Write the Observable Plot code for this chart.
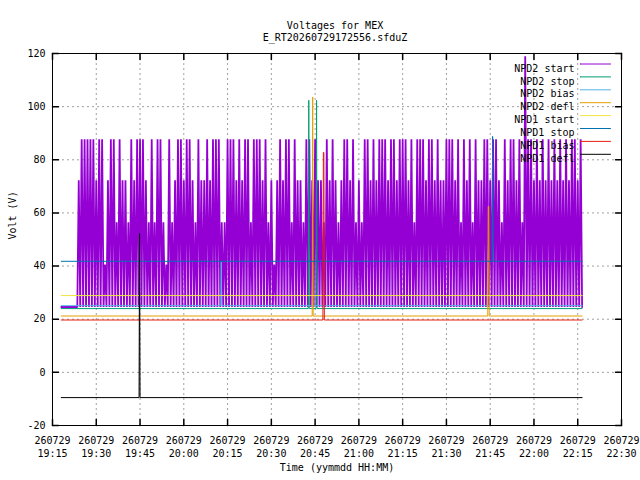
<!DOCTYPE html>
<html><head><meta charset="utf-8">
<script src="https://cdn.jsdelivr.net/npm/d3@7"></script>
<script src="https://cdn.jsdelivr.net/npm/@observablehq/plot@0.6"></script>
<style>body{margin:0;background:#fff}</style>
</head><body><div id="chart"></div>
<script>
const day = "2026-07-29";
const titleLines = ["Voltages for MEX", "E_RT20260729172556.sfduZ"];
const xLabel = "Time (yymmdd HH:MM)";
const yLabel = "Volt (V)";
const xTickDay = "260729";
const xTickTimes = ["19:15","19:30","19:45","20:00","20:15","20:30","20:45","21:00","21:15","21:30","21:45","22:00","22:15","22:30"];
const yTicks = [-20, 0, 20, 40, 60, 80, 100, 120];
const seriesNames = ["NPD2 start","NPD2 stop","NPD2 bias","NPD2 defl","NPD1 start","NPD1 stop","NPD1 bias","NPD1 defl"];
const seriesColors = ["#9400d3","#009e73","#56b4e9","#e69f00","#f0e442","#0072b2","#e51e10","#000000"];

// NPD2 start: regular 30 s samples from 19:18:00
const npd2StartFirst = "19:18:00";
const npd2StartStepSec = 30;
const npd2StartV = [
24.6,24.6,24.6,24.6,24.6,24.6,24.6,24.6,24.6,24.6,24.6,24.6,72.3,24.6,87.7,24.6,87.7,24.6,87.7,24.6,
87.7,24.6,87.7,24.6,72.3,24.6,87.7,24.6,87.7,24.6,40.6,24.6,72.3,24.6,87.7,24.6,87.7,24.6,56.5,24.6,
87.7,24.6,72.3,24.6,72.3,24.6,56.5,24.6,87.7,24.6,72.3,24.6,87.7,24.6,87.7,24.6,87.7,24.6,72.3,24.6,
56.5,24.6,87.7,24.6,56.5,24.6,87.7,24.6,87.7,24.6,56.5,24.6,40.6,24.6,87.7,24.6,56.5,24.6,72.3,24.6,
87.7,24.6,87.7,24.6,72.3,24.6,87.7,24.6,87.7,24.6,72.3,24.6,56.5,24.6,87.7,24.6,72.3,24.6,72.3,24.6,
87.7,24.6,72.3,24.6,87.7,24.6,87.7,24.6,87.7,24.6,56.5,24.6,56.5,24.6,87.7,24.6,87.7,24.6,87.7,24.6,
72.3,24.6,87.7,24.6,72.3,24.6,87.7,24.6,87.7,24.6,56.5,24.6,87.7,24.6,87.7,24.6,87.7,24.6,72.3,24.6,
87.7,24.6,56.5,24.6,72.3,24.6,40.6,24.6,72.3,24.6,87.7,24.6,72.3,24.6,87.7,24.6,87.7,24.6,56.5,24.6,
87.7,24.6,72.3,24.6,72.3,24.6,56.5,24.6,87.7,24.6,87.7,24.6,72.3,24.6,87.7,24.6,72.3,24.6,72.3,24.6,
56.5,24.6,87.7,24.6,72.3,24.6,87.7,24.6,72.3,24.6,56.5,24.6,72.3,24.6,87.7,24.6,87.7,24.6,72.3,24.6,
87.7,24.6,56.5,24.6,72.3,24.6,56.5,24.6,87.7,24.6,87.7,24.6,72.3,24.6,87.7,24.6,72.3,24.6,87.7,24.6,
87.7,24.6,87.7,24.6,72.3,24.6,87.7,24.6,87.7,24.6,72.3,24.6,87.7,24.6,87.7,24.6,87.7,24.6,72.3,24.6,
87.7,24.6,56.5,24.6,87.7,24.6,87.7,24.6,87.7,24.6,72.3,24.6,87.7,24.6,87.7,24.6,72.3,24.6,87.7,24.6,
72.3,24.6,72.3,24.6,87.7,24.6,87.7,24.6,87.7,24.6,72.3,24.6,87.7,24.6,56.5,24.6,87.7,24.6,72.3,24.6,
87.7,24.6,56.5,24.6,87.7,24.6,72.3,24.6,72.3,24.6,87.7,24.6,87.7,24.6,72.3,24.6,87.7,24.6,87.7,24.6,
72.3,24.6,56.5,24.6,87.7,24.6,72.3,24.6,87.7,24.6,87.7,24.6,72.3,24.6,87.7,24.6,56.5,24.6,119.0,24.6,
87.7,24.6,87.7,24.6,72.3,24.6,87.7,24.6,72.3,24.6,87.7,24.6,72.3,24.6,87.7,24.6,72.3,24.6,87.7,24.6,
72.3,24.6,87.7,24.6,72.3,24.6,87.7,24.6,72.3,24.6,87.7,24.6,87.7,24.6,72.3,24.6,87.7,24.6
];

const npd2StopT = ["19:18:00","20:42:40","20:42:50","20:43:00","20:45:20","20:45:30","20:45:40","22:16:30"];
const npd2StopV = [24.0, 24.0, 102.4, 24.0, 24.0, 102.4, 24.0, 24.0];

const npd2BiasT = ["19:18:00","20:12:40","20:12:50","20:13:00","22:16:30"];
const npd2BiasV = [25.1, 25.1, 41.5, 25.1, 25.1];

const npd2DeflT = ["19:18:00","20:44:00","20:44:10","20:44:20","21:44:10","21:44:20","21:44:30","21:44:40","22:16:30"];
const npd2DeflV = [21.2, 21.2, 103.6, 21.2, 21.2, 62.5, 62.5, 21.2, 21.2];

const npd1StartT = ["19:18:00","22:16:30"];
const npd1StartV = [28.9, 28.9];

const npd1StopT = ["19:18:00","21:45:40","21:45:50","21:46:00","22:16:30"];
const npd1StopV = [41.8, 41.8, 88.8, 41.8, 41.8];

const npd1BiasT = ["19:18:00","20:47:40","20:47:50","20:48:00","20:48:10","22:16:30"];
const npd1BiasV = [19.7, 19.7, 82.8, 82.8, 19.7, 19.7];

const npd1DeflT = ["19:18:00","19:44:40","19:44:50","19:45:00","22:16:30"];
const npd1DeflV = [-9.5, -9.5, 52.2, -9.5, -9.5];

const toDate = s => new Date(`${day}T${s.length === 5 ? s + ":00" : s}Z`);

const seriesData = [];
{
  const t0 = toDate(npd2StartFirst).getTime();
  seriesData.push(npd2StartV.map((v, i) => ({t: new Date(t0 + i * npd2StartStepSec * 1000), v})));
}
for (const [T, V] of [[npd2StopT, npd2StopV],[npd2BiasT, npd2BiasV],[npd2DeflT, npd2DeflV],[npd1StartT, npd1StartV],[npd1StopT, npd1StopV],[npd1BiasT, npd1BiasV],[npd1DeflT, npd1DeflV]]) {
  seriesData.push(T.map((s, i) => ({t: toDate(s), v: V[i]})));
}

const xTicks = xTickTimes.map(toDate);
const fmt = d3.utcFormat("%H:%M");

const marks = [
  Plot.gridX(xTicks, {stroke: "#a0a0a0", strokeOpacity: 1, strokeDasharray: "2,3"}),
  Plot.gridY(yTicks, {stroke: "#a0a0a0", strokeOpacity: 1, strokeDasharray: "2,3"}),
];
seriesData.forEach((rows, i) => {
  marks.push(Plot.line(rows, {x: "t", y: "v", stroke: seriesColors[i], strokeWidth: i === 0 ? 1.8 : 1, strokeLinejoin: "miter", strokeMiterlimit: 1}));
});
marks.push(
  Plot.frame({stroke: "black", strokeWidth: 1}),
  Plot.vectorX(xTicks, {frameAnchor: "bottom", length: 6, anchor: "start", r: 0, stroke: "black"}),
  Plot.vectorX(xTicks, {frameAnchor: "top", length: 6, rotate: 180, anchor: "start", r: 0, stroke: "black"}),
  Plot.vectorY(yTicks, {frameAnchor: "left", length: 6, rotate: 90, anchor: "start", r: 0, stroke: "black"}),
  Plot.vectorY(yTicks, {frameAnchor: "right", length: 6, rotate: -90, anchor: "start", r: 0, stroke: "black"}),
  Plot.text(xTicks, {x: d => d, frameAnchor: "bottom", dy: 9, lineAnchor: "top", lineHeight: 1.3, text: d => xTickDay + "\n" + fmt(d), fill: "black"}),
  Plot.text(yTicks, {y: d => d, frameAnchor: "left", dx: -7, textAnchor: "end", text: d => String(d), fill: "black"}),
  Plot.text([xLabel], {frameAnchor: "bottom", dy: 45, text: d => d, fill: "black"}),
  Plot.text([yLabel], {frameAnchor: "left", dx: -40, rotate: -90, text: d => d, fill: "black"}),
  Plot.text([titleLines[0]], {frameAnchor: "top", dx: -2, dy: -31.5, text: d => d, fill: "black"}),
  Plot.text([titleLines[1]], {frameAnchor: "top", dx: -2, dy: -19.5, text: d => d, fill: "black"})
);
seriesNames.forEach((name, i) => {
  marks.push(Plot.text([name], {frameAnchor: "top-right", dx: -47, dy: 11 + 12.9 * i, textAnchor: "end", text: d => d, fill: "black"}));
  marks.push(Plot.vector([0], {frameAnchor: "top-right", dx: -11, dy: 10.5 + 12.9 * i, length: 30, rotate: -90, anchor: "start", r: 0, stroke: seriesColors[i], strokeWidth: 1}));
});

const chart = Plot.plot({
  width: 640,
  height: 480,
  marginLeft: 52,
  marginRight: 19,
  marginTop: 53,
  marginBottom: 55,
  style: {fontFamily: "'DejaVu Sans Mono', monospace", fontSize: "10px", background: "white", overflow: "visible"},
  x: {type: "utc", domain: [toDate("19:15"), toDate("22:30")], axis: null},
  y: {domain: [-20, 120], axis: null},
  marks
});
document.getElementById("chart").appendChild(chart);
</script>
</body></html>
